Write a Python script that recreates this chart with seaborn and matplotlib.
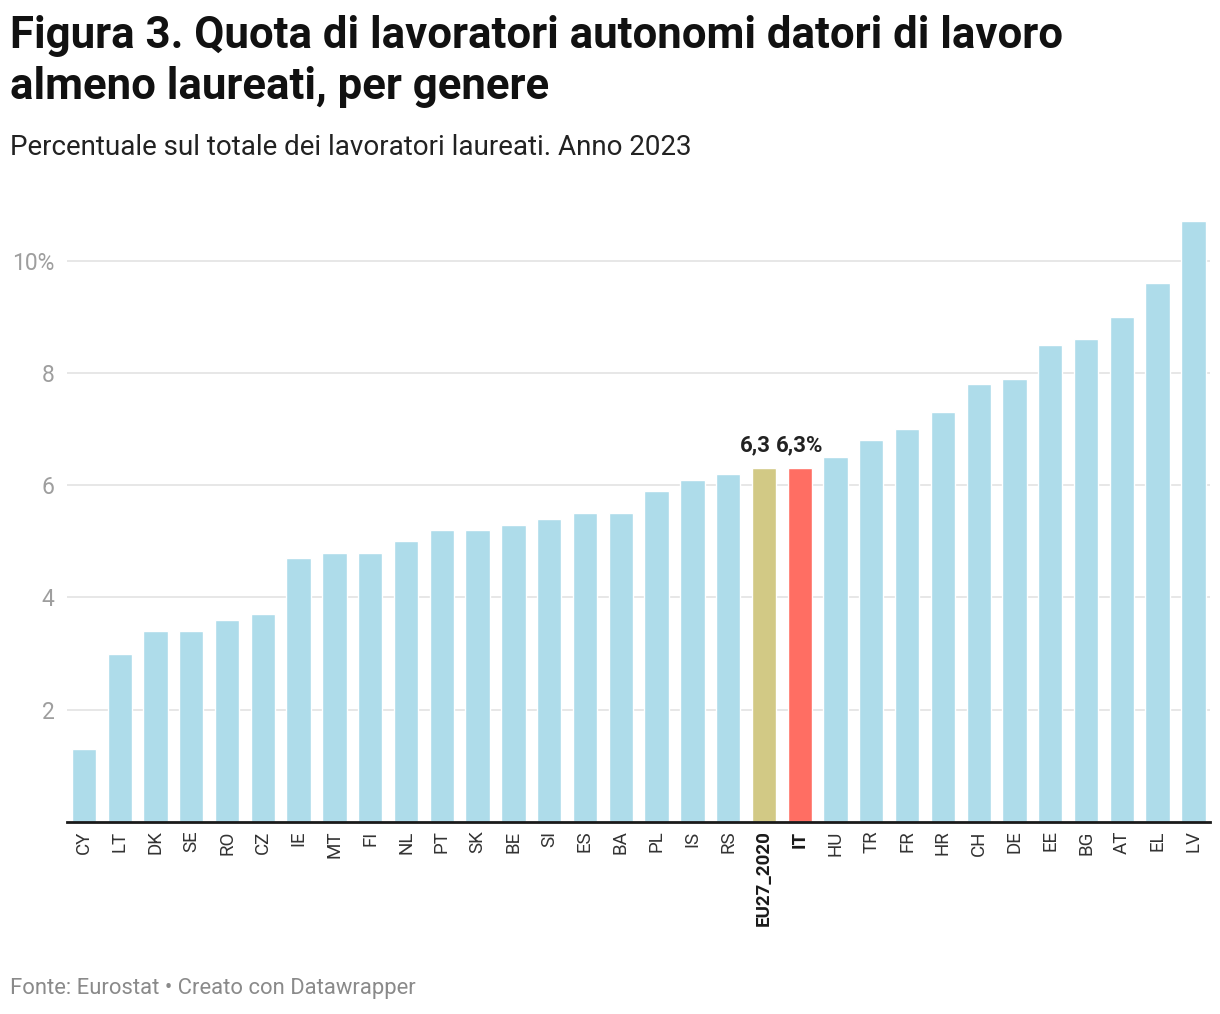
import seaborn as sns
import pandas as pd
import matplotlib.pyplot as plt

sns.set_theme(style='white')
plt.rcParams['font.family'] = ['Roboto', 'DejaVu Sans']

countries = ['CY', 'LT', 'DK', 'SE', 'RO', 'CZ', 'IE', 'MT', 'FI', 'NL', 'PT', 'SK',
             'BE', 'SI', 'ES', 'BA', 'PL', 'IS', 'RS', 'EU27_2020', 'IT', 'HU', 'TR',
             'FR', 'HR', 'CH', 'DE', 'EE', 'BG', 'AT', 'EL', 'LV']
values = [1.3, 3.0, 3.4, 3.4, 3.6, 3.7, 4.7, 4.8, 4.8, 5.0, 5.2, 5.2,
          5.3, 5.4, 5.5, 5.5, 5.9, 6.1, 6.2, 6.3, 6.3, 6.5, 6.8,
          7.0, 7.3, 7.8, 7.9, 8.5, 8.6, 9.0, 9.6, 10.7]
highlight = {'EU27_2020': '#d2c985', 'IT': '#ff6e63'}
value_labels = {'EU27_2020': '6,3', 'IT': '6,3%'}
y_ticks = [2, 4, 6, 8, 10]
y_tick_labels = ['2', '4', '6', '8', '10%']

df = pd.DataFrame({'Paese': countries, 'Quota': values})
palette = [highlight.get(c, '#aedcea') for c in countries]

fig = plt.figure(figsize=(12.2, 10.14), dpi=100)
ax = fig.add_axes([0.055, 0.1893, 0.937, 0.609])

sns.barplot(data=df, x='Paese', y='Quota', hue='Paese', palette=palette,
            legend=False, width=0.68, saturation=1, ax=ax)

ax.set_ylim(0, 11)
ax.set_xlim(-0.47, len(countries) - 0.53)
ax.set_yticks(y_ticks)
ax.set_yticklabels(y_tick_labels, fontsize=16.5, color='#9e9e9e')
ax.yaxis.grid(True, color='#e3e3e3', linewidth=1.2)
ax.set_axisbelow(True)
ax.tick_params(axis='y', length=0, pad=9)
ax.tick_params(axis='x', length=0, pad=6)
ax.set_xlabel('')
ax.set_ylabel('')

for s in ['top', 'right', 'left']:
    ax.spines[s].set_visible(False)
ax.spines['bottom'].set_color('#1a1a1a')
ax.spines['bottom'].set_linewidth(2)

ax.set_xticks(range(len(countries)))
ax.set_xticklabels(countries, rotation=90, fontsize=13.5, color='#333333', va='top')
for lbl in ax.get_xticklabels():
    if lbl.get_text() in highlight:
        lbl.set_fontweight('bold')
        lbl.set_color('#1a1a1a')

# the two labels sit side by side, so the EU one is nudged left
label_shift = {'EU27_2020': -6.5, 'IT': 0}
for i, c in enumerate(countries):
    if c in value_labels:
        ax.annotate(value_labels[c], (i, values[i]), xytext=(label_shift[c], 9),
                    textcoords='offset points', ha='center', va='bottom',
                    fontsize=16, fontweight='bold', color='#222222')

fig.text(0.008, 0.985, 'Figura 3. Quota di lavoratori autonomi datori di lavoro\nalmeno laureati, per genere',
         fontsize=31.5, fontweight='bold', color='#111111', va='top', ha='left', linespacing=1.28)
fig.text(0.008, 0.855, 'Percentuale sul totale dei lavoratori laureati. Anno 2023',
         fontsize=20, color='#222222', va='center', ha='left')
fig.text(0.008, 0.025, 'Fonte: Eurostat \u2022 Creato con Datawrapper',
         fontsize=15.8, color='#8a8a8a', va='center', ha='left')

fig.savefig('out.png', dpi=100)
